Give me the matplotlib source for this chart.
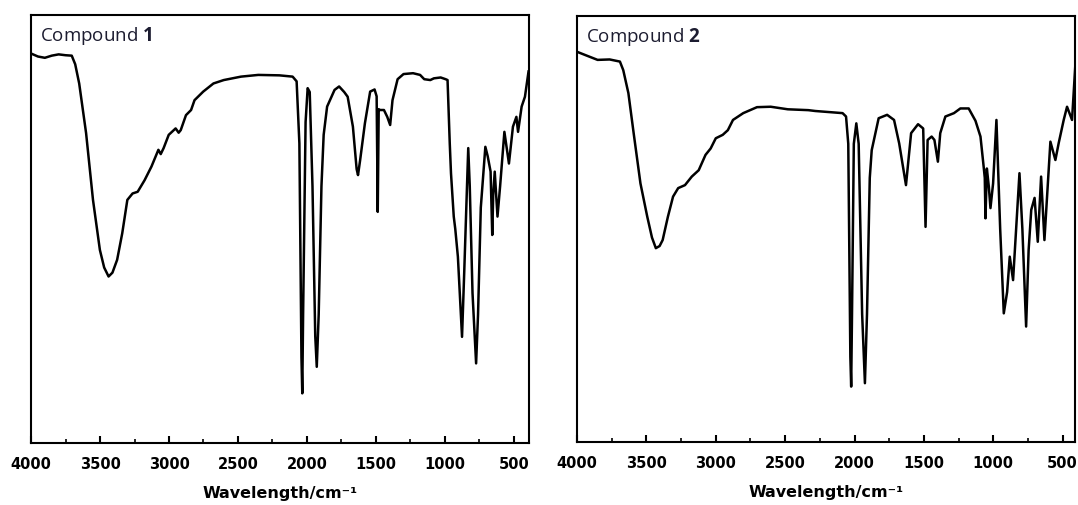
import numpy as np
import matplotlib.pyplot as plt
from matplotlib.ticker import MultipleLocator

# IR spectra (wavenumber in cm-1, transmittance in %)
wn_1 = [4000, 3950, 3900, 3850, 3800, 3750, 3705, 3680, 3651, 3601, 3551, 3501, 3470,
        3438, 3410, 3376, 3339, 3302, 3264, 3227, 3177, 3127, 3077, 3060, 3039, 3002,
        2952, 2930, 2915, 2877, 2840, 2815, 2752, 2678, 2603, 2478, 2353, 2200, 2104,
        2075, 2055, 2040, 2034, 2028, 2010, 1995, 1980, 1960, 1940, 1929, 1915,
        1895, 1879, 1854, 1800, 1767, 1730, 1705, 1667, 1640, 1630, 1615, 1580,
        1542, 1510, 1495, 1487, 1480, 1473, 1442, 1418, 1397, 1380, 1343, 1300,
        1231, 1180, 1150, 1106, 1080, 1031, 995, 981, 965, 956, 936, 925, 906,
        876, 860, 840, 831, 820, 800, 774, 760, 740, 707, 690, 669, 657, 650,
        639, 619, 600, 569, 536, 507, 482, 470, 444, 420, 394]
tr_1 = [91.0, 90.3, 90.0, 90.5, 90.8, 90.6, 90.5, 88.5, 84.0, 72.4, 56.8, 45.1, 41.0,
        38.9, 39.8, 42.8, 49.0, 56.8, 58.3, 58.7, 61.4, 64.6, 68.5, 67.5, 68.9, 72.0,
        73.5, 72.5, 73.1, 76.6, 77.8, 80.1, 82.1, 84.0, 84.8, 85.6, 86.0, 85.9, 85.6,
        84.5, 70.0, 20.0, 11.6, 30.0, 75.0, 82.9, 82.0, 60.0, 25.0, 17.8, 30.0,
        60.0, 72.0, 78.6, 82.5, 83.3, 82.0, 80.9, 73.9, 64.0, 62.6, 66.0, 74.7,
        82.1, 82.6, 81.0, 54.0, 78.0, 77.8, 77.8, 76.2, 74.3, 80.1, 85.0, 86.2,
        86.4, 86.0, 85.0, 84.8, 85.2, 85.4, 85.0, 84.8, 70.0, 63.0, 52.9, 50.0, 43.5,
        24.8, 40.0, 60.0, 68.9, 60.0, 35.0, 18.6, 30.0, 55.0, 69.2, 67.0, 63.4, 48.6, 58.0,
        63.4, 52.9, 60.0, 72.7, 65.3, 73.9, 76.2, 72.7, 78.6, 80.9, 86.8]

wn_2 = [4000, 3938, 3852, 3765, 3691, 3667, 3630, 3592, 3543, 3494, 3460, 3432, 3405,
        3383, 3345, 3308, 3271, 3222, 3173, 3123, 3074, 3037, 3000, 2950, 2913, 2876,
        2802, 2703, 2604, 2481, 2333, 2283, 2086, 2061, 2045, 2030, 2024, 2018, 2005,
        1987, 1970, 1945, 1925, 1910, 1890, 1876, 1826, 1765, 1715, 1678, 1629, 1592,
        1542, 1505, 1488, 1473, 1444, 1424, 1399, 1382, 1345, 1283, 1237, 1177, 1128,
        1092, 1069, 1061, 1056, 1046, 1032, 1020, 1001, 977, 950, 924, 900, 881, 857,
        835, 811, 790, 763, 745, 726, 702, 679, 655, 631, 588, 552, 528, 492, 468,
        432, 406]
tr_2 = [91.6, 90.8, 89.7, 89.8, 89.3, 87.3, 81.9, 72.5, 60.7, 52.9, 48.0, 45.5, 46.0,
        47.4, 52.9, 57.6, 59.6, 60.3, 62.3, 63.8, 67.4, 68.9, 71.3, 72.1, 73.2, 75.6,
        77.2, 78.6, 78.7, 78.1, 77.9, 77.7, 77.2, 76.4, 70.0, 20.0, 13.0, 30.0, 70.0,
        74.8, 70.0, 30.0, 13.8, 30.0, 62.0, 68.5, 76.0, 76.8, 75.6, 70.1, 60.3, 72.5,
        74.6, 73.6, 50.5, 70.9, 71.7, 70.9, 65.8, 72.5, 76.4, 77.2, 78.3, 78.3, 75.4,
        71.7, 64.6, 62.0, 52.5, 64.2, 60.0, 54.9, 60.7, 75.6, 50.0, 30.2, 35.2, 43.5, 38.0,
        50.0, 63.1, 50.0, 27.1, 45.0, 54.5, 57.3, 47.0, 62.3, 47.4, 70.5, 66.2, 70.2, 75.6, 78.7,
        75.6, 89.7]

compounds = ["1", "2"]
x_limits = [(4000, 390), (4000, 410)]

plt.rcParams["mathtext.fontset"] = "custom"
plt.rcParams["mathtext.rm"] = "Open Sans"
plt.rcParams["mathtext.bf"] = "Open Sans:bold"

fig = plt.figure(figsize=(10.78, 5.05), dpi=100)
ax1 = fig.add_axes([0.0288, 0.1228, 0.4620, 0.8475])
ax2 = fig.add_axes([0.5353, 0.1248, 0.4620, 0.8435])

for ax, wn, tr, name, xl in zip([ax1, ax2], [wn_1, wn_2], [tr_1, tr_2], compounds, x_limits):
    ax.plot(wn, tr, color="black", lw=1.8, solid_joinstyle="round")
    ax.set_xlim(*xl)
    ax.set_ylim(0, 100)
    ax.set_yticks([])
    ax.xaxis.set_major_locator(MultipleLocator(500))
    ax.xaxis.set_minor_locator(MultipleLocator(250))
    ax.tick_params(axis="x", which="major", direction="in", length=5, width=1.5, pad=10)
    ax.tick_params(axis="x", which="minor", direction="in", length=3, width=1.2)
    for lab in ax.get_xticklabels():
        lab.set_fontweight("bold")
        lab.set_fontsize(10.5)
    for sp in ax.spines.values():
        sp.set_linewidth(1.5)
    ax.set_xlabel("Wavelength/cm⁻¹", fontsize=11.5, fontweight="bold", labelpad=10)
    ax.text(0.018, 0.951, "Compound $\\mathbf{" + name + "}$", transform=ax.transAxes,
            family="Open Sans", fontsize=13.5, color="#1c1c30", va="center", ha="left")

fig.savefig("out.png", dpi=100)
